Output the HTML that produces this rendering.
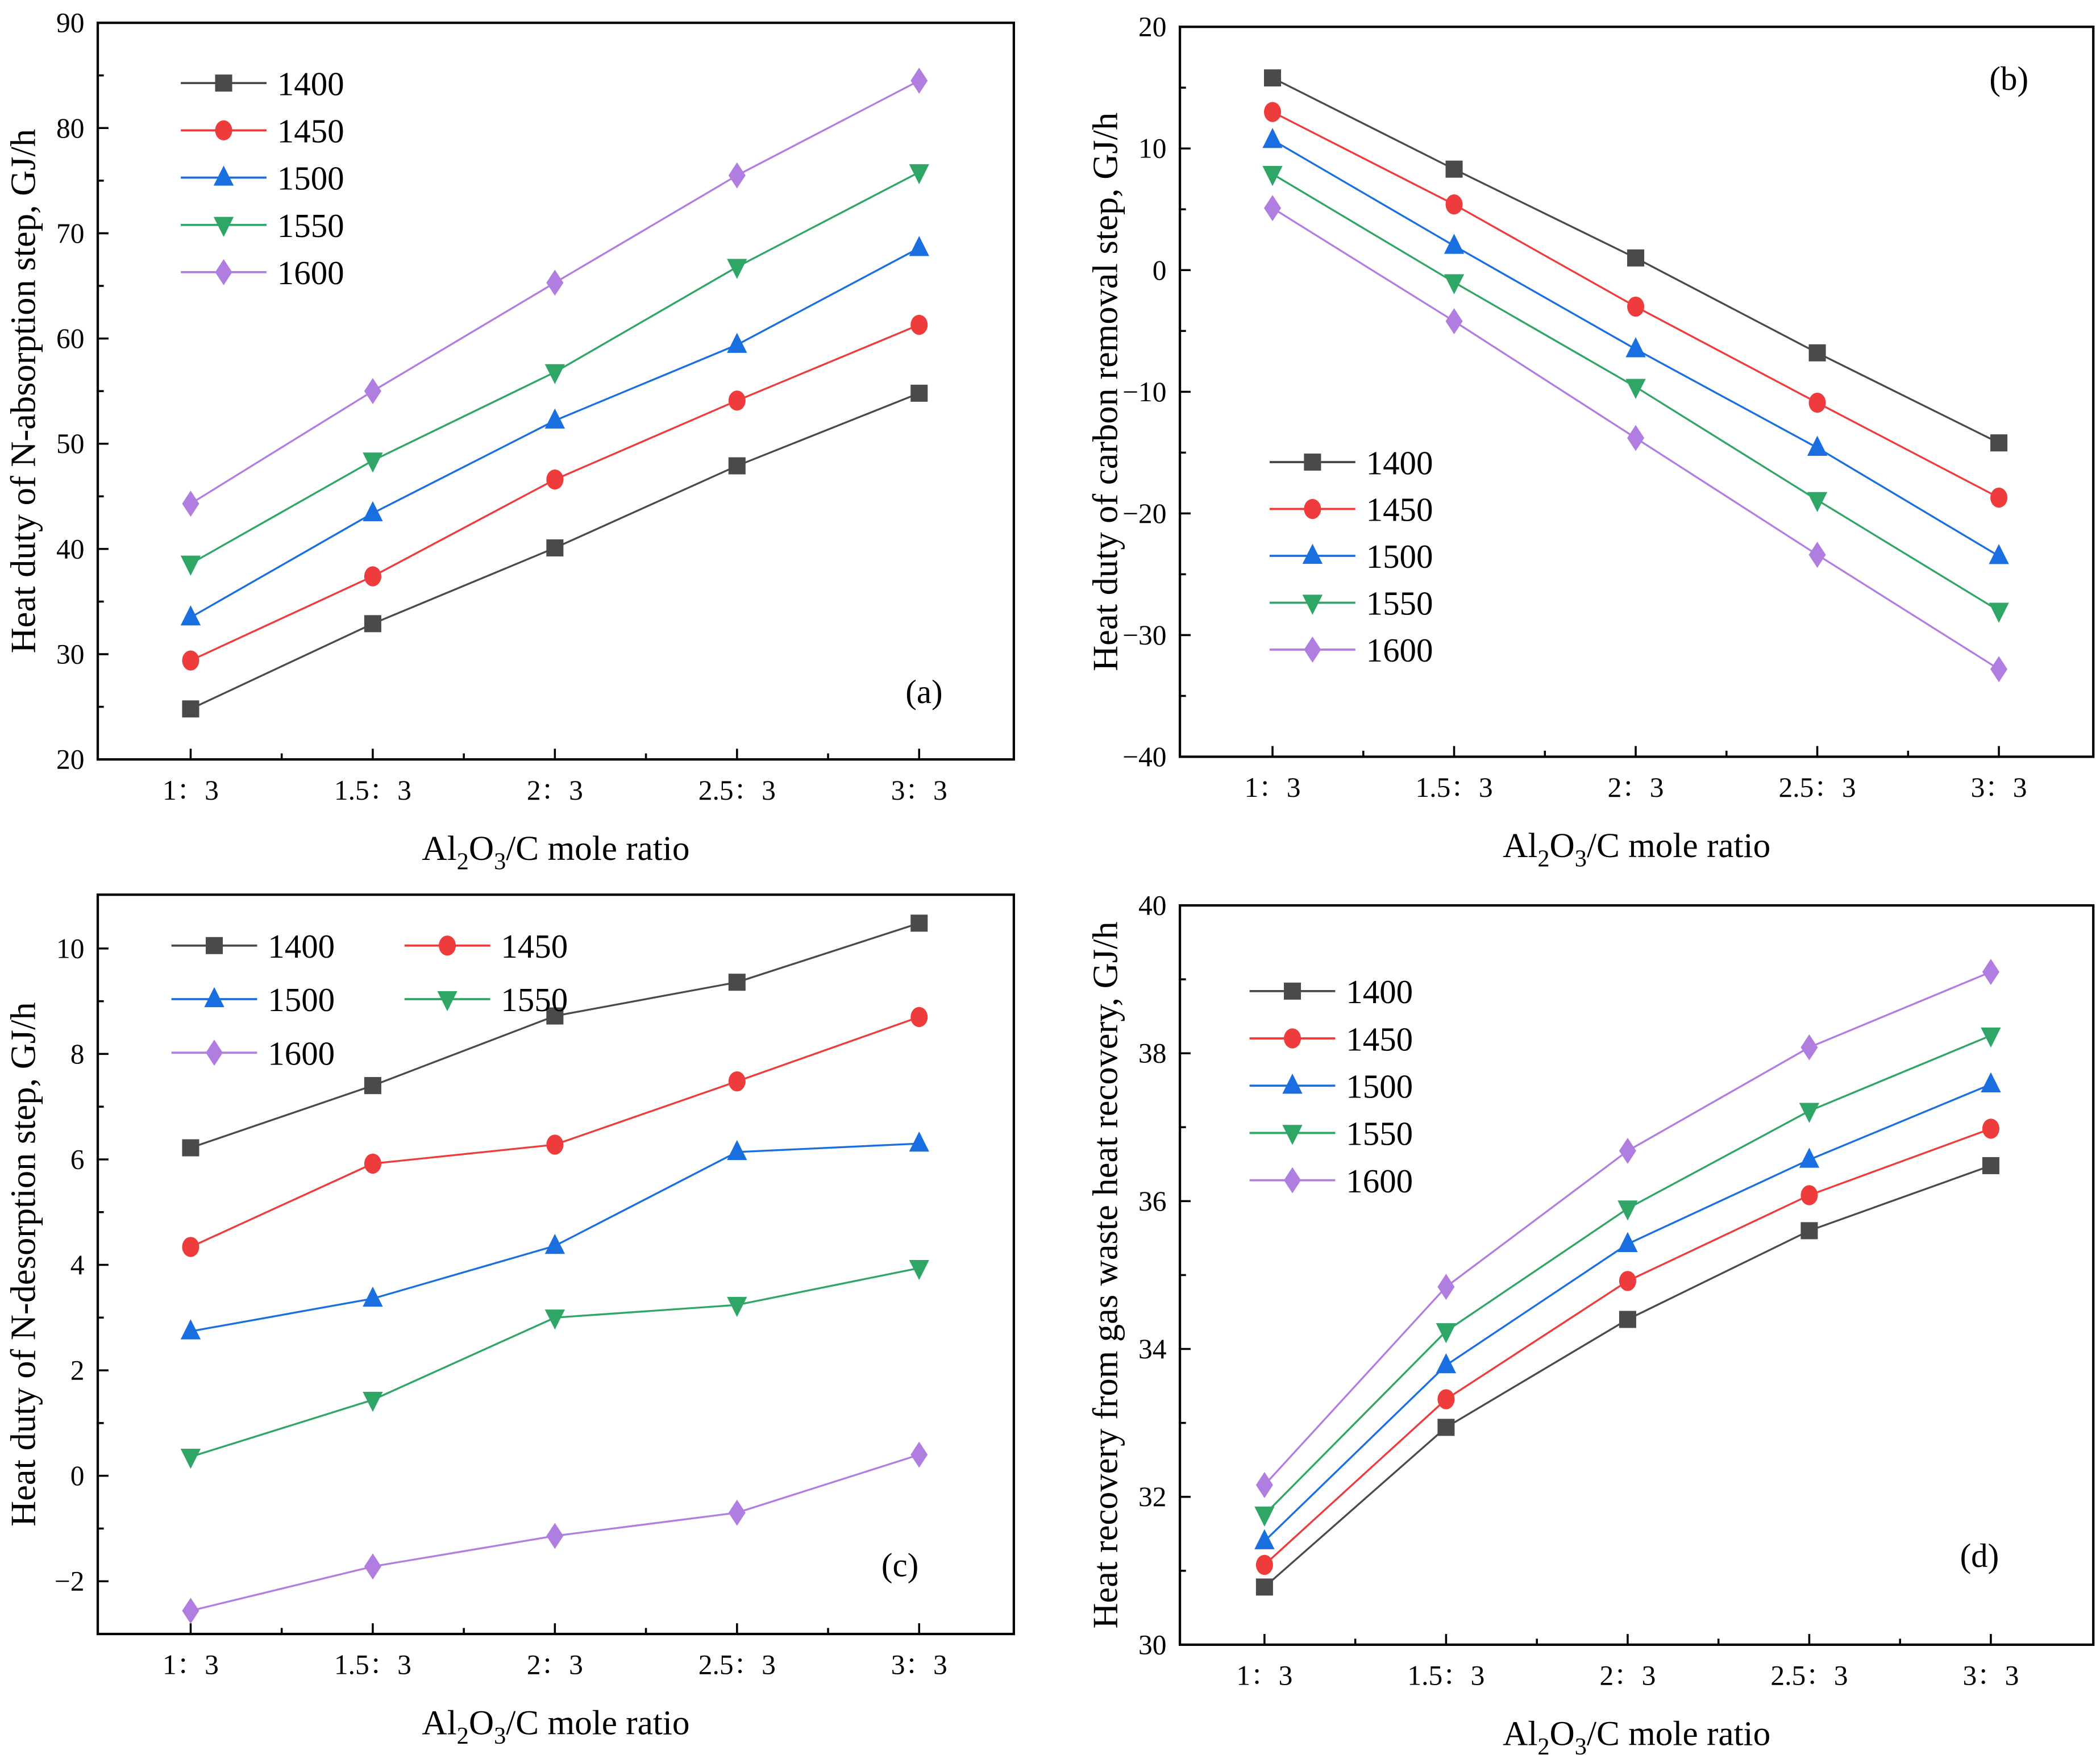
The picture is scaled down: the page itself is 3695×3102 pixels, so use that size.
<!DOCTYPE html>
<html><head><meta charset="utf-8"><style>
html,body{margin:0;padding:0;background:#fff}
svg{display:block}
text{font-family:"Liberation Serif","Noto Serif CJK SC",serif;fill:#000}
</style></head><body>
<svg id="fig" width="3695" height="3102" viewBox="0 0 1568 1316.3" xmlns="http://www.w3.org/2000/svg"></svg>
<script>
const categories=["1：3","1.5：3","2：3","2.5：3","3：3"];
const seriesNames=["1400","1450","1500","1550","1600"];
const aVals=[[24.8,32.9,40.1,47.9,54.8],[29.4,37.4,46.6,54.1,61.3],[33.5,43.4,52.2,59.4,68.6],[38.6,48.4,56.8,66.8,75.8],[44.3,55.0,65.3,75.5,84.5]];
const bVals=[[15.8,8.3,1.0,-6.8,-14.2],[13.0,5.4,-3.0,-10.9,-18.7],[10.7,2.0,-6.5,-14.6,-23.5],[7.9,-1.0,-9.6,-18.9,-28.0],[5.1,-4.2,-13.8,-23.4,-32.8]];
const cVals=[[6.22,7.4,8.72,9.36,10.48],[4.34,5.92,6.28,7.48,8.7],[2.74,3.36,4.36,6.14,6.3],[0.36,1.44,3.0,3.24,3.94],[-2.56,-1.72,-1.14,-0.7,0.4]];
const dVals=[[30.78,32.94,34.4,35.6,36.48],[31.08,33.32,34.92,36.08,36.98],[31.4,33.78,35.42,36.56,37.58],[31.76,34.24,35.9,37.22,38.24],[32.16,34.84,36.68,38.08,39.1]];
const aTicks=[20,30,40,50,60,70,80,90];
const bTicks=[-40,-30,-20,-10,0,10,20];
const cTicks=[-2,0,2,4,6,8,10];
const dTicks=[30,32,34,36,38,40];
const colors=["#4a4a4a","#ee3b3b","#1a6fe0","#2fa566","#b07ee0"];
const markers=["square","circle","up","down","diamond"];
const NS="http://www.w3.org/2000/svg";
const svg=document.getElementById('fig');
function mk(tag,attrs,parent){const e=document.createElementNS(NS,tag);for(const k in attrs)e.setAttribute(k,attrs[k]);(parent||svg).appendChild(e);return e;}
function marker(g,type,x,y,c){let e;const s=7.5;
 if(type=="square")e=mk('rect',{x:x-s*0.85,y:y-s*0.85,width:s*1.7,height:s*1.7,fill:c},g);
 else if(type=="circle")e=mk('ellipse',{cx:x,cy:y,rx:s*0.85,ry:s*1.0,fill:c},g);
 else if(type=="up")e=mk('polygon',{points:`${x},${y-s*1.2} ${x+s},${y+s*0.8} ${x-s},${y+s*0.8}`,fill:c},g);
 else if(type=="down")e=mk('polygon',{points:`${x},${y+s*1.2} ${x+s},${y-s*0.8} ${x-s},${y-s*0.8}`,fill:c},g);
 else e=mk('polygon',{points:`${x},${y-s*1.3} ${x+s*0.85},${y} ${x},${y+s*1.3} ${x-s*0.85},${y}`,fill:c},g);
 
 }
function panel(cfg){
 const g=mk('g',{});
 
 
 const {x0,x1,y0,y1,vmin,vmax}=cfg;
 const off=cfg.off||0;
 const ys=v=>y1-(v-vmin)/(vmax-vmin)*(y1-y0);
 const step=(x1-x0)/5.03;
 const xs=i=>x0+off+step*(i+0.51);
 const box=mk('rect',{x:x0,y:y0,width:x1-x0,height:y1-y0,fill:'none',stroke:'#000','stroke-width':1.8},g);
 
 
 categories.forEach((c,i)=>{
  mk('line',{x1:xs(i),x2:xs(i),y1:y1,y2:y1-8,stroke:'#000','stroke-width':1.5},g);
  if(i<4)mk('line',{x1:xs(i+0.5),x2:xs(i+0.5),y1:y1,y2:y1-4.5,stroke:'#000','stroke-width':1.5},g);
  const t=mk('text',{x:xs(i),y:y1+30,'text-anchor':'middle','font-size':21},g);t.textContent=c;
  
  
 });
 const tk=cfg.ticks;
 tk.forEach((v,i)=>{
  mk('line',{x1:x0,x2:x0+8,y1:ys(v),y2:ys(v),stroke:'#000','stroke-width':1.5},g);
  if(i<tk.length-1){const m=(v+tk[i+1])/2;mk('line',{x1:x0,x2:x0+4.5,y1:ys(m),y2:ys(m),stroke:'#000','stroke-width':1.5},g);}
  const t=mk('text',{x:x0-10,y:ys(v)+7,'text-anchor':'end','font-size':21},g);t.textContent=v<0?'\u2212'+(-v):String(v);
  
  
 });
 cfg.vals.forEach((ser,si)=>{
  const sg=mk('g',{},g);
  
  
  mk('polyline',{points:ser.map((v,i)=>xs(i)+','+ys(v)).join(' '),fill:'none',stroke:colors[si],'stroke-width':1.4},sg);
  ser.forEach((v,i)=>marker(sg,markers[si],xs(i),ys(v),colors[si]));
 });
 const xt=mk('text',{x:(x0+x1)/2,y:y1+75,'text-anchor':'middle','font-size':26},g);
 xt.innerHTML='Al<tspan font-size="18" dy="7">2</tspan><tspan dy="-7">O</tspan><tspan font-size="18" dy="7">3</tspan><tspan dy="-7">/C mole ratio</tspan>';
 
 
 const yt=mk('text',{x:0,y:0,'text-anchor':'middle','font-size':26.5,transform:`translate(${x0-47},${(y0+y1)/2}) rotate(-90)`},g);
 yt.textContent=cfg.ytitle;
 
 
 const pl=mk('text',{x:cfg.lab[0],y:cfg.lab[1],'text-anchor':'middle','font-size':25},g);pl.textContent=cfg.labText;
 
 
 const lg=mk('g',{},g);
 
 
 cfg.leg.forEach((p,si)=>{
  const [lx,ly]=p;
  const eg=mk('g',{},lg);
  
  
  mk('line',{x1:lx,x2:lx+64,y1:ly,y2:ly,stroke:colors[si],'stroke-width':1.6},eg);
  marker(eg,markers[si],lx+32,ly,colors[si]);
  const t=mk('text',{x:lx+72,y:ly+9,'font-size':25},eg);t.textContent=seriesNames[si];
 });
}
const lgStack=(x,y,d)=>[0,1,2,3,4].map(i=>[x,y+i*d]);
panel({name:'panel-a',x0:73,x1:757,y0:17,y1:567,vmin:20,vmax:90,ticks:aTicks,vals:aVals,ytitle:'Heat duty of N-absorption step, GJ/h',lab:[690,525],labText:'(a)',leg:lgStack(135,62,35.3)});
panel({name:'panel-b',x0:881,x1:1563,y0:20,y1:565,vmin:-40,vmax:20,ticks:bTicks,vals:bVals,ytitle:'Heat duty of carbon removal step, GJ/h',lab:[1500,67],labText:'(b)',leg:lgStack(948,345,35)});
panel({name:'panel-c',x0:73,x1:757,y0:668,y1:1220,vmin:-3.0,vmax:11.02,ticks:cTicks,vals:cVals,ytitle:'Heat duty of N-desorption step, GJ/h',lab:[672,1177],labText:'(c)',leg:[[128,706],[302,706],[128,746],[302,746],[128,786]]});
panel({name:'panel-d',x0:881,x1:1563,y0:676,y1:1228,vmin:30,vmax:40,off:-6,ticks:dTicks,vals:dVals,ytitle:'Heat recovery from gas waste heat recovery, GJ/h',lab:[1478,1170],labText:'(d)',leg:lgStack(933,740,35.3)});
</script>
</body></html>
